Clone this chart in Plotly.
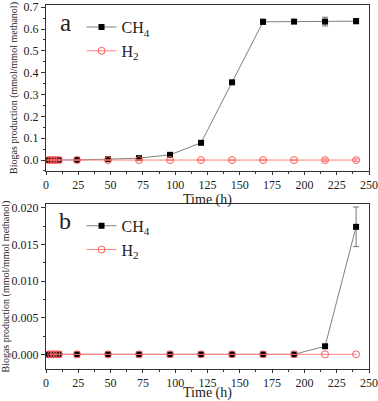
import plotly.graph_objects as go
from plotly.subplots import make_subplots

time_h = [2, 4, 6, 8, 10, 24, 48, 72, 96, 120, 144, 168, 192, 216, 240]

# Panel a
ch4_a = [0, 0, 0, 0, 0, 0.001, 0.004, 0.009, 0.024, 0.079, 0.356, 0.633, 0.634, 0.634, 0.636]
ch4_a_err = [0, 0, 0, 0, 0, 0, 0.004, 0.003, 0.004, 0.004, 0.005, 0.012, 0.005, 0.02, 0.012]
h2_a = [0] * 15
h2_a_err = [0, 0, 0, 0, 0, 0, 0, 0, 0, 0, 0, 0, 0, 0.006, 0.006]

# Panel b
ch4_b = [0, 0, 0, 0, 0, 0, 0, 0, 0, 0, 0, 0, 0, 0.0011, 0.0174]
ch4_b_err = [0, 0, 0, 0, 0, 0, 0, 0, 0, 0, 0, 0, 0, 0.0002, 0.0027]
h2_b = [0] * 15

SERIF = "Liberation Serif"
CH4_LINE = "#808080"
H2_LINE = "#ff8080"
H2_MARK = "#ff5a5a"

fig = make_subplots(rows=2, cols=1)

def add(x, y, err, name, row, legend, kind):
    if kind == "ch4":
        marker = dict(symbol="square", size=6, color="black", line=dict(width=0))
        line = dict(color=CH4_LINE, width=1)
    else:
        marker = dict(symbol="circle-open", size=7, color=H2_MARK, line=dict(width=1))
        line = dict(color=H2_LINE, width=1)
    fig.add_trace(go.Scatter(
        x=x, y=y, mode="lines+markers", name=name, marker=marker, line=line,
        error_y=dict(type="data", array=err, visible=True, color="#555555" if kind == "ch4" else H2_MARK,
                     thickness=0.8, width=3) if err is not None else None,
        legend=legend, showlegend=True), row=row, col=1)

add(time_h, ch4_a, ch4_a_err, "CH<sub>4</sub>", 1, "legend", "ch4")
add(time_h, h2_a, h2_a_err, "H<sub>2</sub>", 1, "legend", "h2")
add(time_h, ch4_b, ch4_b_err, "CH<sub>4</sub>", 2, "legend2", "ch4")
add(time_h, h2_b, None, "H<sub>2</sub>", 2, "legend2", "h2")

axis_common = dict(showline=True, linecolor="#333333", linewidth=1, mirror=True,
                   ticks="outside", ticklen=4, tickcolor="#333333", showgrid=False,
                   zeroline=False, automargin=False,
                   tickfont=dict(family=SERIF, size=12, color="#222"))

xcommon = dict(axis_common, range=[0, 250], tick0=0, dtick=25, ticklen=3,
               minor=dict(ticks="outside", ticklen=2, dtick=12.5, tick0=0, tickcolor="#333333"),
               title=dict(text="Time (h)", font=dict(family=SERIF, size=14, color="#222"), standoff=0))
fig.update_xaxes(**xcommon, row=1, col=1)
fig.update_xaxes(**xcommon, row=2, col=1)

ytitle = dict(text="Biogas production (mmol/mmol methanol)", font=dict(family=SERIF, size=10, color="#222"), standoff=4)
fig.update_yaxes(**axis_common, range=[-0.05, 0.71], tick0=0, dtick=0.1, tickformat=".1f",
                 minor=dict(ticks="outside", ticklen=2, dtick=0.05, tick0=0, tickcolor="#333333"),
                 title=ytitle, domain=[0.544, 1.0], row=1, col=1)
fig.update_yaxes(**axis_common, range=[-0.002, 0.0205], tick0=0, dtick=0.005, tickformat=".3f",
                 minor=dict(ticks="outside", ticklen=2, dtick=0.0025, tick0=0, tickcolor="#333333"),
                 title=ytitle, domain=[0.0, 0.453], row=2, col=1)

legend_style = dict(font=dict(family=SERIF, size=16, color="#222"), bgcolor="rgba(0,0,0,0)",
                    tracegroupgap=0, itemwidth=30, xanchor="left", yanchor="top")
fig.update_layout(
    width=378, height=401,
    margin=dict(l=46, r=9, t=5, b=32, autoexpand=False),
    plot_bgcolor="white", paper_bgcolor="white",
    legend=dict(legend_style, x=0.11, y=0.986),
    legend2=dict(legend_style, x=0.11, y=0.44),
    annotations=[
        dict(text="a", x=0.059, y=0.953, xref="paper", yref="paper", xanchor="center", yanchor="middle",
             showarrow=False, font=dict(family=SERIF, size=25, color="#222")),
        dict(text="b", x=0.059, y=0.406, xref="paper", yref="paper", xanchor="center", yanchor="middle",
             showarrow=False, font=dict(family=SERIF, size=24, color="#222")),
    ],
)

fig.write_html("out.html", config={"displayModeBar": False},
               post_script="document.body.style.margin='0';")
